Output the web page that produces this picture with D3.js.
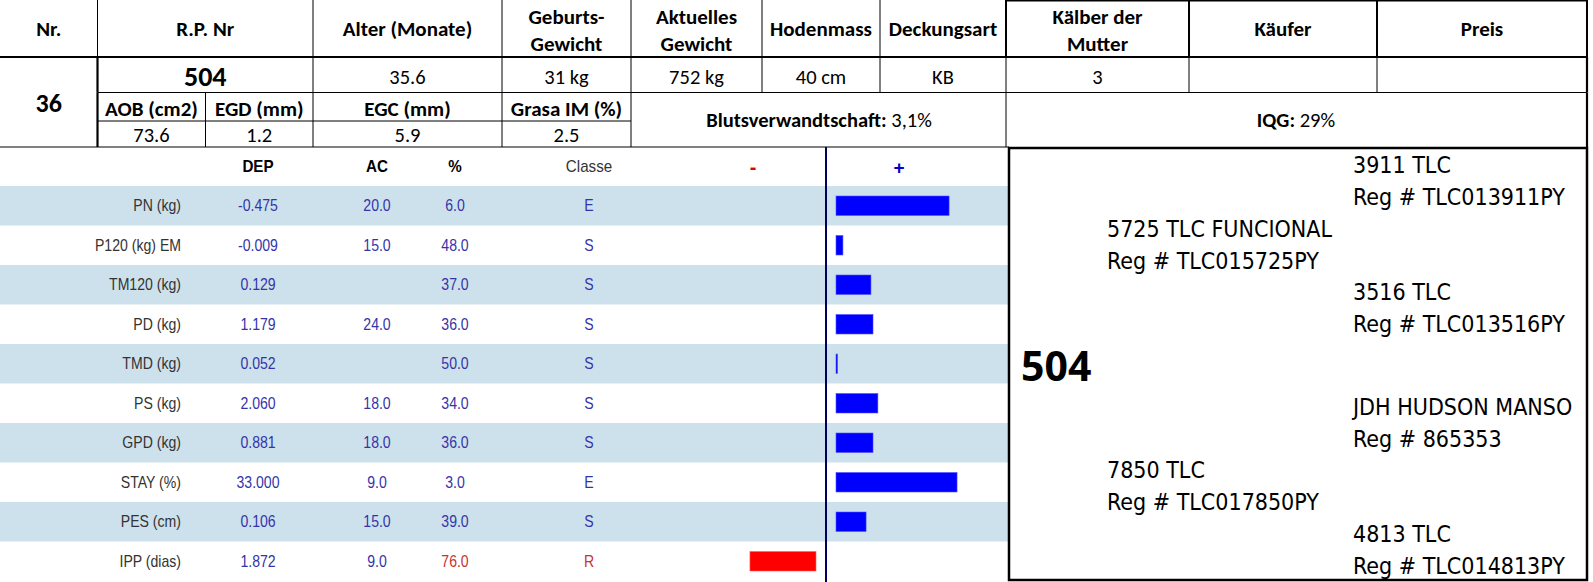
<!DOCTYPE html>
<html>
<head>
<meta charset="utf-8">
<script src="https://cdn.jsdelivr.net/npm/d3@7"></script>
<style>
  html, body { margin: 0; padding: 0; background: #fff; }
  svg { display: block; }
</style>
</head>
<body>
<div id="chart"></div>
<script>
// ---------------- DATA ----------------
const headerLabels = [["Nr."], ["R.P. Nr"], ["Alter (Monate)"], ["Geburts-", "Gewicht"], ["Aktuelles", "Gewicht"],
  ["Hodenmass"], ["Deckungsart"], ["Kälber der", "Mutter"], ["Käufer"], ["Preis"]];
const headerValues = ["36", "504", "35.6", "31 kg", "752 kg", "40 cm", "KB", "3", "", ""];
const carcassLabels = ["AOB (cm2)", "EGD (mm)", "EGC (mm)", "Grasa IM (%)"];
const carcassValues = ["73.6", "1.2", "5.9", "2.5"];
const kinship = ["Blutsverwandtschaft:", " 3,1%"];
const iqg = ["IQG:", " 29%"];

const tableHeaders = ["DEP", "AC", "%", "Classe"];
const traits = ["PN (kg)", "P120 (kg) EM", "TM120 (kg)", "PD (kg)", "TMD (kg)", "PS (kg)", "GPD (kg)", "STAY (%)", "PES (cm)", "IPP (dias)"];
const dep = ["-0.475", "-0.009", "0.129", "1.179", "0.052", "2.060", "0.881", "33.000", "0.106", "1.872"];
const ac = ["20.0", "15.0", "", "24.0", "", "18.0", "18.0", "9.0", "15.0", "9.0"];
const pct = ["6.0", "48.0", "37.0", "36.0", "50.0", "34.0", "36.0", "3.0", "39.0", "76.0"];
const classe = ["E", "S", "S", "S", "S", "S", "S", "E", "S", "R"];
const barValues = [44, 2.7, 13.6, 14.4, 0.6, 16.3, 14.4, 47.1, 11.7, -25.7];

const animalId = "504";
const pedigreeNames = ["3911 TLC", "5725 TLC FUNCIONAL", "3516 TLC", "JDH HUDSON MANSO", "7850 TLC", "4813 TLC"];
const pedigreeRegs = ["Reg # TLC013911PY", "Reg # TLC015725PY", "Reg # TLC013516PY", "Reg # 865353", "Reg # TLC017850PY", "Reg # TLC014813PY"];
const pedigreeGen = [2, 1, 2, 2, 1, 2];
const pedigreeSide = [0, 0, 0, 1, 1, 1];

// ---------------- LAYOUT ----------------
const W = 1593, H = 582;
const svg = d3.select("#chart").append("svg").attr("width", W).attr("height", H);
svg.append("rect").attr("width", W).attr("height", H).attr("fill", "#fff");

const calibri = "Carlito, Calibri, Lato, 'Open Sans', sans-serif";
const arial = "'Liberation Sans', Arial, sans-serif";

const colX = [0, 97.5, 313, 502, 631, 762, 880, 1006, 1189, 1377, 1587];
const mid = i => (colX[i] + colX[i + 1]) / 2;
const boxL = 1009;

// ---- top table ----
const topG = svg.append("g");
headerLabels.forEach((lines, i) => {
  const t = topG.append("text").attr("x", mid(i)).attr("text-anchor", "middle")
    .attr("font-family", calibri).attr("font-weight", "bold").attr("font-size", 21).attr("fill", "#000");
  if (lines.length === 1) {
    t.append("tspan").attr("x", mid(i)).attr("y", 36).text(lines[0]);
  } else {
    t.append("tspan").attr("x", mid(i)).attr("y", 24).text(lines[0]);
    t.append("tspan").attr("x", mid(i)).attr("y", 51).text(lines[1]);
  }
});
headerValues.forEach((v, i) => {
  if (i === 0) {
    topG.append("text").attr("x", mid(0)).attr("y", 112).attr("text-anchor", "middle")
      .attr("font-family", calibri).attr("font-weight", "bold").attr("font-size", 26).text(v);
  } else if (i === 1) {
    topG.append("text").attr("x", mid(i)).attr("y", 86).attr("text-anchor", "middle")
      .attr("font-family", calibri).attr("font-weight", "bold").attr("font-size", 28).text(v);
  } else {
    topG.append("text").attr("x", mid(i)).attr("y", 83.5).attr("text-anchor", "middle")
      .attr("font-family", calibri).attr("font-size", 20.5).text(v);
  }
});
const subX = [97.5, 205.5, 313, 502, 631];
carcassLabels.forEach((l, i) => {
  const cx = (subX[i] + subX[i + 1]) / 2;
  const t = topG.append("text").attr("x", cx).attr("y", 115.5).attr("text-anchor", "middle")
    .attr("font-family", calibri).attr("font-weight", "bold").attr("font-size", 21).text(l);
  const w = t.node().getComputedTextLength();
  const maxW = subX[i + 1] - subX[i] - 6;
  if (w > maxW) t.attr("textLength", maxW).attr("lengthAdjust", "spacingAndGlyphs");
  topG.append("text").attr("x", cx).attr("y", 141.5).attr("text-anchor", "middle")
    .attr("font-family", calibri).attr("font-size", 20.5).text(carcassValues[i]);
});
function mixed(x, y, parts) {
  const t = topG.append("text").attr("x", x).attr("y", y).attr("text-anchor", "middle")
    .attr("font-family", calibri).attr("font-size", 20.5);
  t.append("tspan").attr("font-weight", "bold").text(parts[0]);
  t.append("tspan").text(parts[1]);
}
mixed(819, 126.5, kinship);
mixed(1296, 126.5, iqg);

// grid lines
const lines = [
  [1006, 0.75, 1587, 0.75, 1.5],
  [0, 57, 1587, 57, 2.2],
  [97.5, 92.5, 1587, 92.5, 1],
  [97.5, 121, 631, 121, 1],
  [0, 147, boxL, 147, 1],
];
colX.slice(1).forEach(x => lines.push([x, 0, x, 57, (x >= 1006) ? 2 : 1]));
[97.5, 313, 502, 631, 762, 880, 1006, 1189, 1377, 1587].forEach(x => lines.push([x, 57, x, 92.5, (x === 97.5 || x === 1587) ? 2.2 : 1]));
[97.5, 205.5, 313, 502, 631, 1006, 1587].forEach(x => lines.push([x, 92.5, x, 147, (x === 97.5 || x === 1587) ? 2.2 : 1]));
topG.selectAll("line.grid").data(lines).join("line").attr("class", "grid")
  .attr("x1", d => d[0]).attr("y1", d => d[1]).attr("x2", d => d[2]).attr("y2", d => d[3])
  .attr("stroke", "#000").attr("stroke-width", d => d[4]);

// ---- trait table ----
const y = d3.scaleBand().domain(traits).range([186, 581]);
const bandColor = "#cde1ec";
const tbl = svg.append("g");
tbl.selectAll("rect.band").data(traits.filter((d, i) => i % 2 === 0)).join("rect")
  .attr("x", 0).attr("y", d => y(d)).attr("width", boxL).attr("height", y.bandwidth()).attr("fill", bandColor);

function ntext(g, x, yy, str, o) {
  return g.append("text")
    .attr("transform", `translate(${x},${yy}) scale(${o.sx || 0.88},1)`)
    .attr("text-anchor", o.anchor || "middle")
    .attr("font-family", arial).attr("font-size", o.size || 16)
    .attr("font-weight", o.bold ? "bold" : "normal")
    .attr("fill", o.fill || "#333").text(str);
}

const colCenters = [258, 377, 455, 589];
tableHeaders.forEach((h, i) => {
  ntext(tbl, colCenters[i], 172, h, { bold: i < 3, fill: i < 3 ? "#000" : "#333", sx: 0.95 });
});
ntext(tbl, 753, 174, "-", { bold: true, fill: "#e00000", size: 20, sx: 1 });
ntext(tbl, 899, 174, "+", { bold: true, fill: "#0000cc", size: 19, sx: 1 });

const blue = "#3434aa", red = "#c83232";
traits.forEach((t, i) => {
  const base = y(t) + y.bandwidth() / 2 + 5.7;
  const c = classe[i] === "R" ? red : blue;
  ntext(tbl, 181, base, t, { anchor: "end", fill: "#333" });
  ntext(tbl, colCenters[0], base, dep[i], { fill: blue });
  ntext(tbl, colCenters[1], base, ac[i], { fill: blue });
  ntext(tbl, colCenters[2], base, pct[i], { fill: c });
  ntext(tbl, colCenters[3], base, classe[i], { fill: c });
});

// bars
const axisX = 826, gap = 10;
const x = d3.scaleLinear().domain([0, 50]).range([0, 128.5]);
const barH = 19.5;
tbl.selectAll("rect.bar").data(traits).join("rect").attr("class", "bar")
  .attr("x", (d, i) => barValues[i] >= 0 ? axisX + gap : axisX - gap - x(-barValues[i]))
  .attr("y", d => y(d) + (y.bandwidth() - barH) / 2)
  .attr("width", (d, i) => Math.max(1.5, x(Math.abs(barValues[i]))))
  .attr("height", barH)
  .attr("fill", (d, i) => barValues[i] >= 0 ? "#0000ff" : "#ff0000")
  .attr("stroke", (d, i) => barValues[i] >= 0 ? "#5050ff" : "#ff6060").attr("stroke-width", 0.6);
tbl.append("line").attr("x1", axisX).attr("x2", axisX).attr("y1", 147).attr("y2", 582)
  .attr("stroke", "#00005e").attr("stroke-width", 2);

// ---- pedigree ----
const ped = svg.append("g");
ped.append("rect").attr("x", boxL).attr("y", 148).attr("width", 1587 - boxL).attr("height", 432)
  .attr("fill", "#fff").attr("stroke", "#000").attr("stroke-width", 2.5);
ped.append("text").attr("x", 1021).attr("y", 381).attr("font-family", "'Open Sans', sans-serif").attr("font-weight", "bold")
  .attr("font-size", 41).text(animalId);
const slot = d3.scalePoint().domain(d3.range(3)).range([0, 127]);
const pedX = { 1: 1107, 2: 1353 };
const pedFont = "'DejaVu Sans Condensed', 'DejaVu Sans', sans-serif";
const pg = ped.selectAll("g.anc").data(pedigreeNames).join("g").attr("class", "anc")
  .attr("transform", (d, i) => `translate(${pedX[pedigreeGen[i]]},${173 + slot(i % 3) + pedigreeSide[i] * 241.5})`);
pg.append("text").attr("y", 0).attr("font-family", pedFont).attr("font-stretch", "condensed")
  .attr("font-size", 23).attr("fill", "#000").text(d => d);
pg.append("text").attr("y", 32).attr("font-family", pedFont).attr("font-stretch", "condensed")
  .attr("font-size", 23).attr("fill", "#000").text((d, i) => pedigreeRegs[i]);
</script>
</body>
</html>
